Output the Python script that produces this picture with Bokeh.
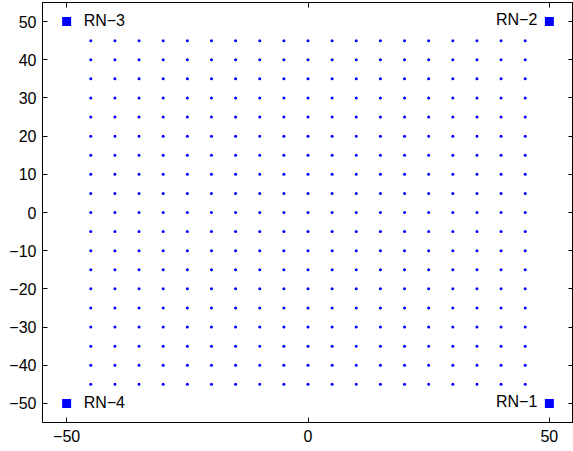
from bokeh.plotting import figure
from bokeh.models import Range1d, LinearAxis, FixedTicker, ColumnDataSource
from bokeh.embed import file_html
from bokeh.resources import INLINE
from bokeh.core.properties import value

# ---- data ----
grid_x_values = [-45, -40, -35, -30, -25, -20, -15, -10, -5, 0, 5, 10, 15, 20, 25, 30, 35, 40, 45]
grid_y_values = [-45, -40, -35, -30, -25, -20, -15, -10, -5, 0, 5, 10, 15, 20, 25, 30, 35, 40, 45]
node_x = [50, 50, -50, -50]
node_y = [-50, 50, 50, -50]
node_labels = ["RN\u22121", "RN\u22122", "RN\u22123", "RN\u22124"]
x_ticks = [-50, 0, 50]
y_ticks = [-50, -40, -30, -20, -10, 0, 10, 20, 30, 40, 50]
x_limits = (-55, 55)
y_limits = (-55, 55)

def tick_label(v):
    return ("\u2212" + str(-v)) if v < 0 else str(v)

BLUE = "#0000ff"
FONT = "Liberation Sans"
FS = "16px"

p = figure(width=573, height=451, output_backend="svg", toolbar_location=None,
           x_range=Range1d(*x_limits), y_range=Range1d(*y_limits),
           min_border_left=42, min_border_right=0, min_border_top=2, min_border_bottom=29)
p.xgrid.grid_line_color = None
p.ygrid.grid_line_color = None
p.outline_line_color = "black"
p.background_fill_color = "white"
p.border_fill_color = "white"

def style_axis(ax, ticks, show_labels):
    ax.ticker = FixedTicker(ticks=ticks)
    ax.major_tick_in = 5
    ax.major_tick_out = 0
    ax.minor_tick_in = 0
    ax.minor_tick_out = 0
    ax.axis_line_color = "black"
    ax.major_tick_line_color = "black"
    ax.major_label_text_font = FONT
    ax.major_label_text_color = "black"
    if show_labels:
        ax.major_label_text_font_size = FS
        ax.major_label_overrides = {t: tick_label(t) for t in ticks}
    else:
        ax.major_label_text_font_size = "0px"
        ax.major_label_overrides = {t: "" for t in ticks}
        ax.major_label_standoff = 0

style_axis(p.xaxis[0], x_ticks, True)
p.xaxis[0].major_label_standoff = 7
style_axis(p.yaxis[0], y_ticks, True)
p.yaxis[0].major_label_standoff = 6

top = LinearAxis()
style_axis(top, x_ticks, False)
p.add_layout(top, "above")
right = LinearAxis()
style_axis(right, y_ticks, False)
p.add_layout(right, "right")

gx = [x for y in grid_y_values for x in grid_x_values]
gy = [y for y in grid_y_values for x in grid_x_values]
p.scatter(gx, gy, marker="circle", size=3, fill_color=BLUE, line_color=None)

p.scatter(node_x, node_y, marker="square", size=9, fill_color=BLUE, line_color=None)

src_left = ColumnDataSource(dict(x=[node_x[i] for i in (0, 1)], y=[node_y[i] for i in (0, 1)],
                                 t=[node_labels[i] for i in (0, 1)]))
src_right = ColumnDataSource(dict(x=[node_x[i] for i in (2, 3)], y=[node_y[i] for i in (2, 3)],
                                  t=[node_labels[i] for i in (2, 3)]))
p.text(x="x", y="y", text="t", source=src_left, text_align="right", text_baseline="middle",
       x_offset=-12, y_offset=-2, text_font=value(FONT), text_font_size=FS, text_color="black")
p.text(x="x", y="y", text="t", source=src_right, text_align="left", text_baseline="middle",
       x_offset=17, y_offset=-1, text_font=value(FONT), text_font_size=FS, text_color="black")

open("out.html", "w").write(file_html(p, INLINE))
